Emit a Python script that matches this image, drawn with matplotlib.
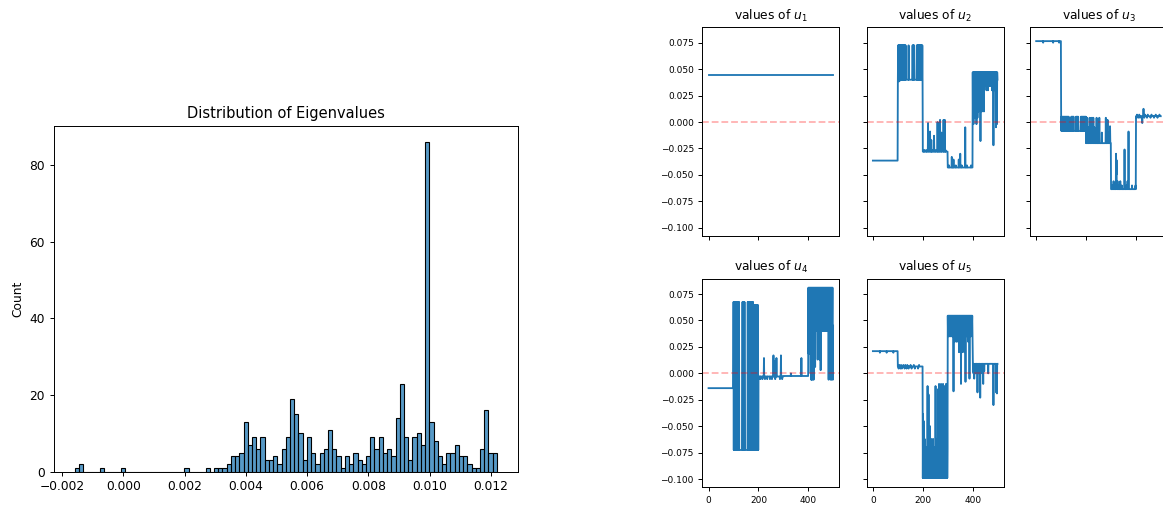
"""Eigenvalue histogram and first eigenvectors"""

#%% Importing modules
import numpy as np
import matplotlib.pyplot as plt
from matplotlib.ticker import MultipleLocator
import seaborn as sns

#%% Histogram data (100 equal bins between the smallest and largest eigenvalue)
eig_min, eig_max = -0.00159, 0.0122
eig_counts = [1, 2, 0, 0, 0, 0, 1, 0, 0, 0,
              0, 1, 0, 0, 0, 0, 0, 0, 0, 0,
              0, 0, 0, 0, 0, 0, 1, 0, 0, 0,
              0, 1, 0, 1, 1, 1, 2, 4, 4, 5,
              13, 7, 9, 6, 9, 3, 3, 4, 2, 6,
              9, 19, 15, 10, 3, 9, 5, 2, 5, 6,
              11, 6, 4, 1, 4, 2, 5, 3, 2, 4,
              9, 6, 9, 5, 6, 4, 14, 23, 9, 3,
              9, 10, 7, 86, 13, 8, 4, 2, 5, 5,
              7, 4, 4, 2, 1, 1, 6, 16, 5, 5]

#%% Eigenvector values: one letter per entry, letters map to the levels
u1_levels = {'a': 0.0447}
u1_codes = [
    "aaaaaaaaaa aaaaaaaaaa aaaaaaaaaa aaaaaaaaaa aaaaaaaaaa aaaaaaaaaa aaaaaaaaaa aaaaaaaaaa aaaaaaaaaa aaaaaaaaaa",
    "aaaaaaaaaa aaaaaaaaaa aaaaaaaaaa aaaaaaaaaa aaaaaaaaaa aaaaaaaaaa aaaaaaaaaa aaaaaaaaaa aaaaaaaaaa aaaaaaaaaa",
    "aaaaaaaaaa aaaaaaaaaa aaaaaaaaaa aaaaaaaaaa aaaaaaaaaa aaaaaaaaaa aaaaaaaaaa aaaaaaaaaa aaaaaaaaaa aaaaaaaaaa",
    "aaaaaaaaaa aaaaaaaaaa aaaaaaaaaa aaaaaaaaaa aaaaaaaaaa aaaaaaaaaa aaaaaaaaaa aaaaaaaaaa aaaaaaaaaa aaaaaaaaaa",
    "aaaaaaaaaa aaaaaaaaaa aaaaaaaaaa aaaaaaaaaa aaaaaaaaaa aaaaaaaaaa aaaaaaaaaa aaaaaaaaaa aaaaaaaaaa aaaaaaaaaa",
]

u2_levels = {'A': -0.0365, 'H': 0.0725, 'L': 0.0400, 'l': 0.0385,
             'B': -0.0280, 'b': -0.0265, 't': 0.0000, 'y': -0.0010, 'z': 0.0020,
             'x': -0.0090, 'w': -0.0170, 'v': -0.0130, 'u': -0.0100,
             'C': -0.0430, 'c': -0.0410, 'p': -0.0330, 'q': -0.0355, 'r': -0.0300, 's': -0.0050,
             'T': 0.0470, 'm': 0.0400, 'n': 0.0340, 'e': 0.0300, 'o': 0.0200, 'f': 0.0100,
             'k': 0.0040, 'j': -0.0020, 'd': -0.0050, 'i': -0.0180, 'g': -0.0220}
u2_codes = [
    "AAAAAAAAAA AAAAAAAAAA AAAAAAAAAA AAAAAAAAAA AAAAAAAAAA AAAAAAAAAA AAAAAAAAAA AAAAAAAAAA AAAAAAAAAA AAAAAAAAAA",
    "lHlHLHlHLH LHLHLHLHLH LHLHLHLHLH LHLLLLLLLL LLLHLLLLLL LLLLLLLLLH LHLHLHLLLL LLLLLLHLHL HLHLHLHLHL HLHLHLHLHL",
    "BBBbBBBBbB BBBBBbBBBB ByBBBBBBBx BBBBwBBbBB BBBBBvBBBB BBbBBBBBBt BBBByBBBBz BBBBBuBBBB BBBzBBBBzB BbBBBBBBBB",
    "CCCCCcCCCC CCCCCCpCCc CCCqCCCCCC CCcCCCCCCC CCCCqCCCCc rCCCCCcCCC CCCCCCCCCC sCCCCCCcCC CCCCCCCCCC CCCcCCCCCC",
    "TkTjTkTfTk TkToTjTeTk TnTfTmTeTo TiTnTmTfTn TeTmTfTnTm TnTmTeTnTm TeTnTmTnTm TmTnTmTeTn TmTgTnTmTe TmTdTnTjTm",
]

u3_levels = {'a': 0.0765, 'b': 0.0750, 'H': 0.0050, 'L': -0.0085,
             'C': -0.0200, 'p': 0.0040, 'q': 0.0020, 'r': -0.0050, 's': -0.0100, 't': -0.0040,
             'D': -0.0635, 'd': -0.0600, 'e': -0.0560, 'f': -0.0300, 'g': -0.0360,
             'h': -0.0500, 'i': -0.0260, 'j': -0.0090,
             'E': 0.0055, 'k': 0.0040, 'l': 0.0070, 'm': 0.0125, 'n': -0.0010}
u3_codes = [
    "aaaaaaaaaa aaaaaaaaaa aaaaaaaaba aaaaaaaaaa aaaaaaaaaa aaaaaaaaaa aaaaaaaaba aaaaaaaaaa aaaaaaaaaa aabaaaaaaa",
    "HLHLHLHLHL HLHLHLHLHL HLHLHLHLHL HLLLLLLLLL LHLHLHLHLH HLLLLLLLLL HLHLHLHLHL LLLLLLLLLH LHLHLHLHLH LHLHLHLHLH",
    "CpCCCpCCrC CCCrCpCCCq CpCCsCCpCp CCCrCCsCCC CCpCCCCCtC CCCpCCCCCC CCCsCCCCCC CCCCCCCCCp CCCCCCqCCC CsCCCCtCCC",
    "DDDDDdDDDD eDDDdDDDDD fhgDDDeDDD DdDDDDDeDD DDDdDDDDDD DDDDiDDDDD DDdDDDeDDD jDDDDDDDDD DDDDdDDDDD DDDDDDDDdD",
    "EEkElEEEEk EEElEEkEEE EEEEEnEEEE mEEkEElEEE EEEEkEElEE EEEEEEEEkE EElEEEEEEE EEkEEEEEEl EEEEEEkEEE EEEElEEEEE",
]

u4_levels = {'A': -0.0140, 'H': 0.0675, 'h': 0.0645, 'L': -0.0725,
             'B': -0.0030, 'b': -0.0055, 'p': 0.0145, 'q': 0.0170, 'r': 0.0115,
             'C': -0.0025, 't': 0.0000, 's': 0.0145,
             'T': 0.0810, 'm': 0.0450, 'n': 0.0400, 'o': 0.0300, 'f': 0.0185, 'e': 0.0130,
             'g': 0.0060, 'k': 0.0030, 'j': 0.0000, 'i': -0.0060}
u4_codes = [
    "AAAAAAAAAA AAAAAAAAAA AAAAAAAAAA AAAAAAAAAA AAAAAAAAAA AAAAAAAAAA AAAAAAAAAA AAAAAAAAAA AAAAAAAAAA AAAAAAAAAA",
    "HLHLHLHLHL HLHLHLHLHL HLHLLLLLLL LLLLLLHLHL HLHLHLLLLL LLLLLLLHLH HLHLHLHLHL HLHLHLHLHL hLhLhLhLhL hLhLhLhLhL",
    "BBBbBBBBbB BBBBBBbBBB BBpBBBbBBB BBBBBbBBBB BBBBBBbBBB BBBBbBBBBB qBBBBrBbBB BBpBBBBBBB BBBBBBbBBB qBBBBbBBBB",
    "CCCCCCCCCC CCCCCCCCCC CCCCCCCCCC tCCCCCCCCC CCCCCCCCCC CCCCCCCCCC CCCCCCCCCC CCsCCCCCCC CCCCCCCCCC CCCCCCCCCC",
    "TfTnTfTmTj TiTiTnTiTo TiTmTnTgTm TnTmTnTeTm TnTmTeTnTk TmTnTmTnTm TnTmTnTmTn TTTnTmTTTn TiTmTTTnTi TmTiTnTTim",
]

u5_levels = {'A': 0.0210, 'a': 0.0195, 'B': 0.0065, 'b': 0.0045, 'c': 0.0080,
             'L': -0.0990, 'K': -0.0880, 'G': -0.0780, 'y': -0.0700, 't': -0.0620,
             'r': -0.0500, 'x': -0.0450, 'p': -0.0385, 'w': -0.0300, 'v': -0.0200,
             's': -0.0150, 'q': -0.0120, 'u': -0.0100,
             'H': 0.0545, 'm': 0.0450, 'n': 0.0350, 'o': 0.0400, 'g': 0.0300, 'i': 0.0200,
             'd': -0.0170, 'e': -0.0100, 'f': -0.0080, 'h': -0.0050,
             'C': 0.0090, 'j': -0.0050, 'k': -0.0180, 'l': -0.0230, 'z': -0.0100,
             'Z': 0.0000, 'Y': -0.0300, 'X': -0.0190, 'W': 0.0020}
u5_codes = [
    "AAAAAAAAAA AAAAAAAAAA AAAAAAAAaA AAAAAAAAAA AAAAAAAAAA AAAAAaAAAA AAAAAAAAAA AAAAAAAAAA AAaAAAAAAA AAAAAAAAAA",
    "BcBbBBcBBB bBBcBBbBBB BBcBBBBbBB cBBBBbBBcB BBBbBBBBBB BcBBBbBBBB BBBBcBBBbB BBBBBBBBBB BbBBBcBBBB BBBBBBBBBB",
    "LpLxLrLtLL LLLLyLGLLq LtLvLyLGLr LGLtLKLyLL LtLLLLLyLG LqLyLLLLLt LsLGLuLtLq LyLuLKLsLG LuLtLqLyLs LqLuLGLsLy",
    "HnHmHnHoHn HmHnHoHnHm HnHdHgHnHm HnHgHmHgHn HnHgHiHnHg HnHeHgHnHi HnHmHnHiHn HfHnHmHoHn HgHnHmHhHn HmHnHoHmHn",
    "CWCZCCjCWC CZCCCCCCCk CZCWCCCCCC lCZCCWCCCC CCzCCCWCCC CCCCCCCCCC CCZCCCCCCC CCCCCCCCCC CCCYCCCCCC CCCCkCCXCC",
]


def decode(levels, codes):
    s = ''.join(''.join(block.split()) for block in codes)
    return np.array([levels[ch] for ch in s])


vectors = [decode(u1_levels, u1_codes), decode(u2_levels, u2_codes),
           decode(u3_levels, u3_codes), decode(u4_levels, u4_codes),
           decode(u5_levels, u5_codes)]

#%% Figure
fig = plt.figure(figsize=(1163 / 88, 505 / 88), dpi=88)

ax_h = fig.add_axes([0.0461, 0.0659, 0.3993, 0.6851])
edges = np.linspace(eig_min, eig_max, len(eig_counts) + 1)
centers = (edges[:-1] + edges[1:]) / 2
sns.histplot(x=centers, weights=np.array(eig_counts, dtype=float),
             bins=len(eig_counts), binrange=(eig_min, eig_max), ax=ax_h,
             edgecolor='black', linewidth=0.9)
ax_h.set_title('Distribution of Eigenvalues')
ax_h.set_ylabel('Count')

#%% Eigenvector panels
lefts = [0.6039, 0.7452, 0.8856, 0.6039, 0.7452]
bottoms = [0.5327, 0.5327, 0.5327, 0.0350, 0.0350]
first = None
for k, u in enumerate(vectors):
    ax = fig.add_axes([lefts[k], bottoms[k], 0.1178, 0.4135],
                      sharex=first, sharey=first)
    if first is None:
        first = ax
    ax.plot(np.arange(len(u)), u, color='C0', lw=1.5)
    ax.axhline(0, color='red', ls='--', alpha=0.3, lw=1.5)
    ax.set_title(f'values of $u_{k + 1}$', fontsize=10)
    ax.tick_params(labelsize=7.4)
    if k not in (0, 3):
        ax.tick_params(labelleft=False)
    if k < 3:
        ax.tick_params(labelbottom=False)

first.set_ylim(-0.1078, 0.0897)
first.yaxis.set_major_locator(MultipleLocator(0.025))
first.xaxis.set_major_locator(MultipleLocator(200))

fig.savefig('out.png', dpi=88)
